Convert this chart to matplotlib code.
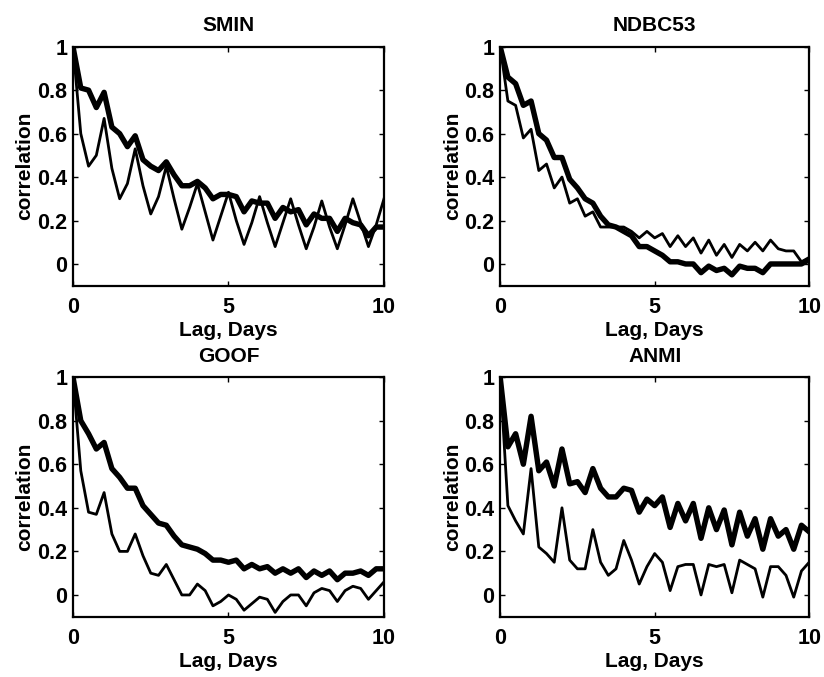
import matplotlib.pyplot as plt
import numpy as np

plt.rcParams['font.family'] = 'Liberation Sans'
plt.rcParams['font.weight'] = 'bold'
plt.rcParams['axes.titleweight'] = 'bold'
plt.rcParams['axes.labelweight'] = 'bold'

# lag in days, 6-hourly steps
lag = np.arange(41) * 0.25

titles = ["SMIN", "NDBC53", "GOOF", "ANMI"]

smin_thick = [1.0, 0.81, 0.80, 0.72, 0.79, 0.63, 0.60, 0.54, 0.59, 0.48,
              0.45, 0.43, 0.47, 0.41, 0.36, 0.36, 0.38, 0.35, 0.30, 0.32,
              0.32, 0.31, 0.24, 0.29, 0.28, 0.28, 0.21, 0.26, 0.24, 0.25,
              0.18, 0.23, 0.21, 0.21, 0.15, 0.21, 0.19, 0.18, 0.13, 0.17, 0.17]
smin_thin = [1.0, 0.60, 0.45, 0.50, 0.67, 0.44, 0.30, 0.37, 0.53, 0.36,
             0.23, 0.31, 0.45, 0.30, 0.16, 0.26, 0.37, 0.24, 0.11, 0.22,
             0.33, 0.20, 0.09, 0.19, 0.31, 0.19, 0.08, 0.19, 0.30, 0.18,
             0.07, 0.17, 0.29, 0.17, 0.07, 0.18, 0.30, 0.19, 0.08, 0.18, 0.30]

ndbc_thick = [1.0, 0.86, 0.83, 0.73, 0.75, 0.60, 0.57, 0.49, 0.49, 0.39,
              0.35, 0.30, 0.28, 0.22, 0.18, 0.17, 0.15, 0.13, 0.08, 0.08,
              0.06, 0.04, 0.01, 0.01, 0.00, 0.00, -0.04, -0.01, -0.03, -0.02,
              -0.05, -0.01, -0.02, -0.02, -0.04, 0.00, 0.00, 0.00, 0.00, 0.00, 0.02]
ndbc_thin = [1.0, 0.75, 0.73, 0.58, 0.62, 0.43, 0.46, 0.35, 0.40, 0.28,
             0.30, 0.22, 0.24, 0.17, 0.17, 0.17, 0.17, 0.15, 0.12, 0.15,
             0.12, 0.14, 0.08, 0.13, 0.08, 0.12, 0.05, 0.11, 0.04, 0.09,
             0.03, 0.09, 0.06, 0.10, 0.06, 0.11, 0.07, 0.06, 0.06, 0.01, 0.03]

goof_thick = [1.0, 0.80, 0.74, 0.67, 0.70, 0.58, 0.54, 0.49, 0.49, 0.41,
              0.37, 0.33, 0.32, 0.27, 0.23, 0.22, 0.21, 0.19, 0.16, 0.16,
              0.15, 0.16, 0.12, 0.14, 0.12, 0.13, 0.10, 0.12, 0.10, 0.12,
              0.08, 0.11, 0.09, 0.11, 0.07, 0.10, 0.10, 0.11, 0.09, 0.12, 0.12]
goof_thin = [1.0, 0.57, 0.38, 0.37, 0.47, 0.28, 0.20, 0.20, 0.28, 0.18,
             0.10, 0.09, 0.14, 0.07, 0.00, 0.00, 0.05, 0.02, -0.05, -0.03,
             0.00, -0.02, -0.07, -0.04, -0.01, -0.02, -0.08, -0.03, 0.00, 0.00,
             -0.05, 0.01, 0.03, 0.02, -0.03, 0.02, 0.04, 0.03, -0.02, 0.02, 0.06]

anmi_thick = [1.0, 0.68, 0.74, 0.60, 0.82, 0.57, 0.61, 0.50, 0.67, 0.51,
              0.52, 0.47, 0.58, 0.49, 0.45, 0.45, 0.49, 0.48, 0.38, 0.44,
              0.41, 0.45, 0.31, 0.42, 0.34, 0.42, 0.26, 0.40, 0.30, 0.39,
              0.23, 0.38, 0.27, 0.35, 0.21, 0.35, 0.27, 0.30, 0.21, 0.32, 0.29]
anmi_thin = [1.0, 0.41, 0.34, 0.28, 0.58, 0.22, 0.19, 0.15, 0.40, 0.16,
             0.12, 0.12, 0.30, 0.15, 0.09, 0.12, 0.25, 0.16, 0.05, 0.13,
             0.19, 0.15, 0.02, 0.13, 0.14, 0.14, 0.00, 0.14, 0.13, 0.14,
             0.01, 0.16, 0.14, 0.12, -0.01, 0.13, 0.13, 0.09, -0.01, 0.11, 0.15]

thick = [smin_thick, ndbc_thick, goof_thick, anmi_thick]
thin = [smin_thin, ndbc_thin, goof_thin, anmi_thin]

fig = plt.figure(figsize=(8.24, 6.77), dpi=100)
# axes boxes [left, bottom, width, height] in figure fractions
boxes = [[0.0886, 0.578, 0.3774, 0.353],
         [0.607, 0.578, 0.375, 0.353],
         [0.0886, 0.089, 0.3774, 0.354],
         [0.607, 0.089, 0.375, 0.354]]

for i in range(4):
    ax = fig.add_axes(boxes[i])
    ax.plot(lag, thin[i], color='black', lw=2.0)
    ax.plot(lag, thick[i], color='black', lw=3.9)
    ax.set_xlim(0, 10)
    ax.set_ylim(-0.1, 1)
    ax.set_xticks([0, 5, 10])
    ax.set_xticklabels(['0', '5', '10'])
    ax.set_yticks([0, 0.2, 0.4, 0.6, 0.8, 1])
    ax.set_yticklabels(['0', '0.2', '0.4', '0.6', '0.8', '1'])
    ax.tick_params(direction='in', top=True, right=True, length=3.5, width=1,
                   labelsize=15.5)
    ax.tick_params(axis='x', pad=8)
    ax.tick_params(axis='y', pad=4)
    for s in ax.spines.values():
        s.set_linewidth(1.6)
    ax.set_title(titles[i], fontsize=15, pad=11)
    ax.set_xlabel("Lag, Days", fontsize=15, labelpad=2)
    ax.set_ylabel("correlation", fontsize=15, labelpad=2)

fig.savefig("out.png", dpi=100)
